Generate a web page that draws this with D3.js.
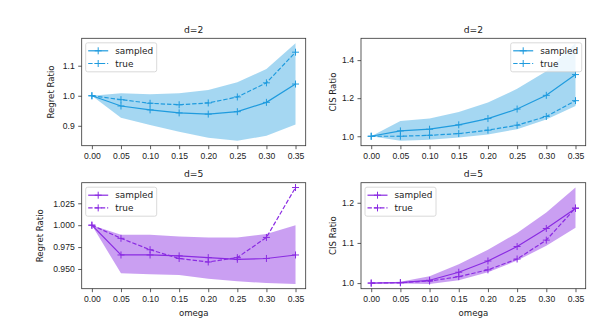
<!DOCTYPE html>
<html>
<head>
<meta charset="utf-8">
<script src="https://cdn.jsdelivr.net/npm/d3@7"></script>
<style>
  body { margin: 0; background: #fff; }
  svg { font-family: "DejaVu Sans", sans-serif; }
  .axis path, .axis line { stroke: #333; stroke-width: 0.8; }
  .axis text { fill: #222; font-size: 8.6px; }
</style>
</head>
<body>
<div id="chart"></div>
<script>
// x values (omega)
const omega = [0, 0.05, 0.10, 0.15, 0.20, 0.25, 0.30, 0.35];

// d=2, regret ratio
const regretD2Sampled = [1.0, 0.966, 0.953, 0.943, 0.939, 0.947, 0.978, 1.039];
const regretD2True    = [1.0, 0.987, 0.975, 0.970, 0.976, 0.996, 1.043, 1.145];
const regretD2Upper   = [1.0, 1.008, 1.005, 1.008, 1.019, 1.045, 1.089, 1.175];
const regretD2Lower   = [1.0, 0.927, 0.903, 0.880, 0.860, 0.850, 0.867, 0.904];

// d=2, CIS ratio
const cisD2Sampled = [1.0, 1.028, 1.037, 1.060, 1.093, 1.143, 1.215, 1.324];
const cisD2True    = [1.0, 1.000, 1.005, 1.014, 1.032, 1.058, 1.104, 1.187];
const cisD2Upper   = [1.0, 1.080, 1.093, 1.127, 1.177, 1.249, 1.342, 1.489];
const cisD2Lower   = [1.0, 0.976, 0.981, 0.993, 1.009, 1.037, 1.088, 1.159];

// d=5, regret ratio
const regretD5Sampled = [1.0, 0.966, 0.966, 0.965, 0.963, 0.961, 0.962, 0.966];
const regretD5True    = [1.0, 0.985, 0.972, 0.962, 0.958, 0.963, 0.986, 1.043];
const regretD5Upper   = [1.0, 0.989, 0.989, 0.987, 0.986, 0.986, 0.990, 1.000];
const regretD5Lower   = [1.0, 0.945, 0.944, 0.943, 0.939, 0.936, 0.934, 0.933];

// d=5, CIS ratio
const cisD5Sampled = [1.0, 1.001, 1.007, 1.027, 1.055, 1.091, 1.136, 1.186];
const cisD5True    = [1.0, 1.001, 1.005, 1.016, 1.033, 1.060, 1.107, 1.187];
const cisD5Upper   = [1.0, 1.003, 1.017, 1.047, 1.083, 1.125, 1.176, 1.238];
const cisD5Lower   = [1.0, 0.999, 0.998, 1.007, 1.027, 1.056, 1.093, 1.138];

// tick labels
const xTicks = [0, 0.05, 0.10, 0.15, 0.20, 0.25, 0.30, 0.35];
const regretD2Ticks = [0.9, 1.0, 1.1];
const cisD2Ticks = [1.0, 1.2, 1.4];
const regretD5Ticks = [0.950, 0.975, 1.000, 1.025];
const cisD5Ticks = [1.0, 1.1, 1.2];

const blue = "#1f9bde";
const purple = "#8a2be2";

const W = 606, H = 325;
const svg = d3.select("#chart").append("svg")
  .attr("width", W).attr("height", H);

const panels = [
  { title: "d=2", ylab: "Regret Ratio", sampled: regretD2Sampled, truth: regretD2True,
    upper: regretD2Upper, lower: regretD2Lower, ticks: regretD2Ticks, fmt: ".1f",
    color: blue, alpha: 0.4, x0: 81.7, x1: 305.7, y0: 38.3, y1: 145.7,
    ylabX: 51.7, legend: "left", xlab: false },
  { title: "d=2", ylab: "CIS Ratio", sampled: cisD2Sampled, truth: cisD2True,
    upper: cisD2Upper, lower: cisD2Lower, ticks: cisD2Ticks, fmt: ".1f",
    color: blue, alpha: 0.4, x0: 361, x1: 585.7, y0: 38.3, y1: 145.7,
    ylabX: 333.7, legend: "right", xlab: false },
  { title: "d=5", ylab: "Regret Ratio", sampled: regretD5Sampled, truth: regretD5True,
    upper: regretD5Upper, lower: regretD5Lower, ticks: regretD5Ticks, fmt: ".3f",
    color: purple, alpha: 0.45, x0: 81.7, x1: 305.7, y0: 182.7, y1: 288.7,
    ylabX: 40, legend: "left", xlab: true },
  { title: "d=5", ylab: "CIS Ratio", sampled: cisD5Sampled, truth: cisD5True,
    upper: cisD5Upper, lower: cisD5Lower, ticks: cisD5Ticks, fmt: ".1f",
    color: purple, alpha: 0.45, x0: 361, x1: 585.7, y0: 182.7, y1: 288.7,
    ylabX: 333.7, legend: "left", xlab: true }
];

panels.forEach(p => {
  // matplotlib-like 5% margins
  const xr = 0.35 * 0.05;
  const x = d3.scaleLinear().domain([0 - xr, 0.35 + xr]).range([p.x0, p.x1]);
  const all = p.sampled.concat(p.truth, p.upper, p.lower);
  const mn = d3.min(all), mx = d3.max(all), m = (mx - mn) * 0.05;
  const y = d3.scaleLinear().domain([mn - m, mx + m]).range([p.y1, p.y0]);

  const g = svg.append("g");

  // band
  const area = d3.area()
    .x((d, i) => x(omega[i]))
    .y0((d, i) => y(p.lower[i]))
    .y1(d => y(d));
  g.append("path").datum(p.upper)
    .attr("d", area)
    .attr("fill", p.color).attr("fill-opacity", p.alpha);

  const line = d3.line().x((d, i) => x(omega[i])).y(d => y(d));

  const series = [
    { vals: p.sampled, dash: null },
    { vals: p.truth, dash: "4.4,1.9" }
  ];
  series.forEach(s => {
    g.append("path").datum(s.vals)
      .attr("d", line)
      .attr("fill", "none").attr("stroke", p.color)
      .attr("stroke-width", 1.2)
      .attr("stroke-dasharray", s.dash);
    g.selectAll(null).data(s.vals).enter().append("path")
      .attr("d", (d, i) => {
        const cx = x(omega[i]), cy = y(d), r = 3.5;
        return `M${cx - r},${cy}H${cx + r}M${cx},${cy - r}V${cy + r}`;
      })
      .attr("stroke", p.color).attr("stroke-width", 1);
  });

  // axes
  g.append("g").attr("class", "axis")
    .attr("transform", `translate(0,${p.y1})`)
    .call(d3.axisBottom(x).tickValues(xTicks).tickFormat(d3.format(".2f"))
      .tickSize(3.5).tickPadding(3.5).tickSizeOuter(0))
    .select(".domain").remove();
  g.append("g").attr("class", "axis")
    .attr("transform", `translate(${p.x0},0)`)
    .call(d3.axisLeft(y).tickValues(p.ticks).tickFormat(d3.format(p.fmt))
      .tickSize(3.5).tickPadding(3.5).tickSizeOuter(0))
    .select(".domain").remove();

  // frame
  g.append("rect")
    .attr("x", p.x0).attr("y", p.y0)
    .attr("width", p.x1 - p.x0).attr("height", p.y1 - p.y0)
    .attr("fill", "none").attr("stroke", "#333").attr("stroke-width", 0.8);

  // title
  g.append("text")
    .attr("x", (p.x0 + p.x1) / 2).attr("y", p.y0 - 5.5)
    .attr("text-anchor", "middle")
    .attr("font-size", "9.2px").attr("fill", "#222")
    .text(p.title);

  // y label
  g.append("text")
    .attr("transform", `translate(${p.ylabX},${(p.y0 + p.y1) / 2}) rotate(-90)`)
    .attr("text-anchor", "middle").attr("dominant-baseline", "middle")
    .attr("font-size", "8.6px").attr("fill", "#222")
    .text(p.ylab);

  if (p.xlab) {
    g.append("text")
      .attr("x", (p.x0 + p.x1) / 2).attr("y", p.y1 + 27)
      .attr("text-anchor", "middle")
      .attr("font-size", "8.6px").attr("fill", "#222")
      .text("omega");
  }

  // legend
  const lw = 71, lh = 29;
  const lx = p.legend === "left" ? p.x0 + 4 : p.x1 - 4 - lw;
  const ly = p.y0 + 4.5;
  const leg = g.append("g").attr("transform", `translate(${lx},${ly})`);
  leg.append("rect")
    .attr("width", lw).attr("height", lh).attr("rx", 2)
    .attr("fill", "#fff").attr("fill-opacity", 0.8)
    .attr("stroke", "#d0d0d0").attr("stroke-width", 0.8);
  ["sampled", "true"].forEach((name, k) => {
    const yy = 8 + k * 12.7;
    leg.append("line")
      .attr("x1", 2.5).attr("x2", 22.5).attr("y1", yy).attr("y2", yy)
      .attr("stroke", p.color).attr("stroke-width", 1.2)
      .attr("stroke-dasharray", k === 1 ? "4.4,1.9" : null);
    leg.append("path")
      .attr("d", `M9,${yy}H16M12.5,${yy - 3.5}V${yy + 3.5}`)
      .attr("stroke", p.color).attr("stroke-width", 1);
    leg.append("text")
      .attr("x", 29.5).attr("y", yy).attr("dy", "0.35em")
      .attr("font-size", "8.9px").attr("fill", "#222")
      .text(name);
  });
});
</script>
</body>
</html>
